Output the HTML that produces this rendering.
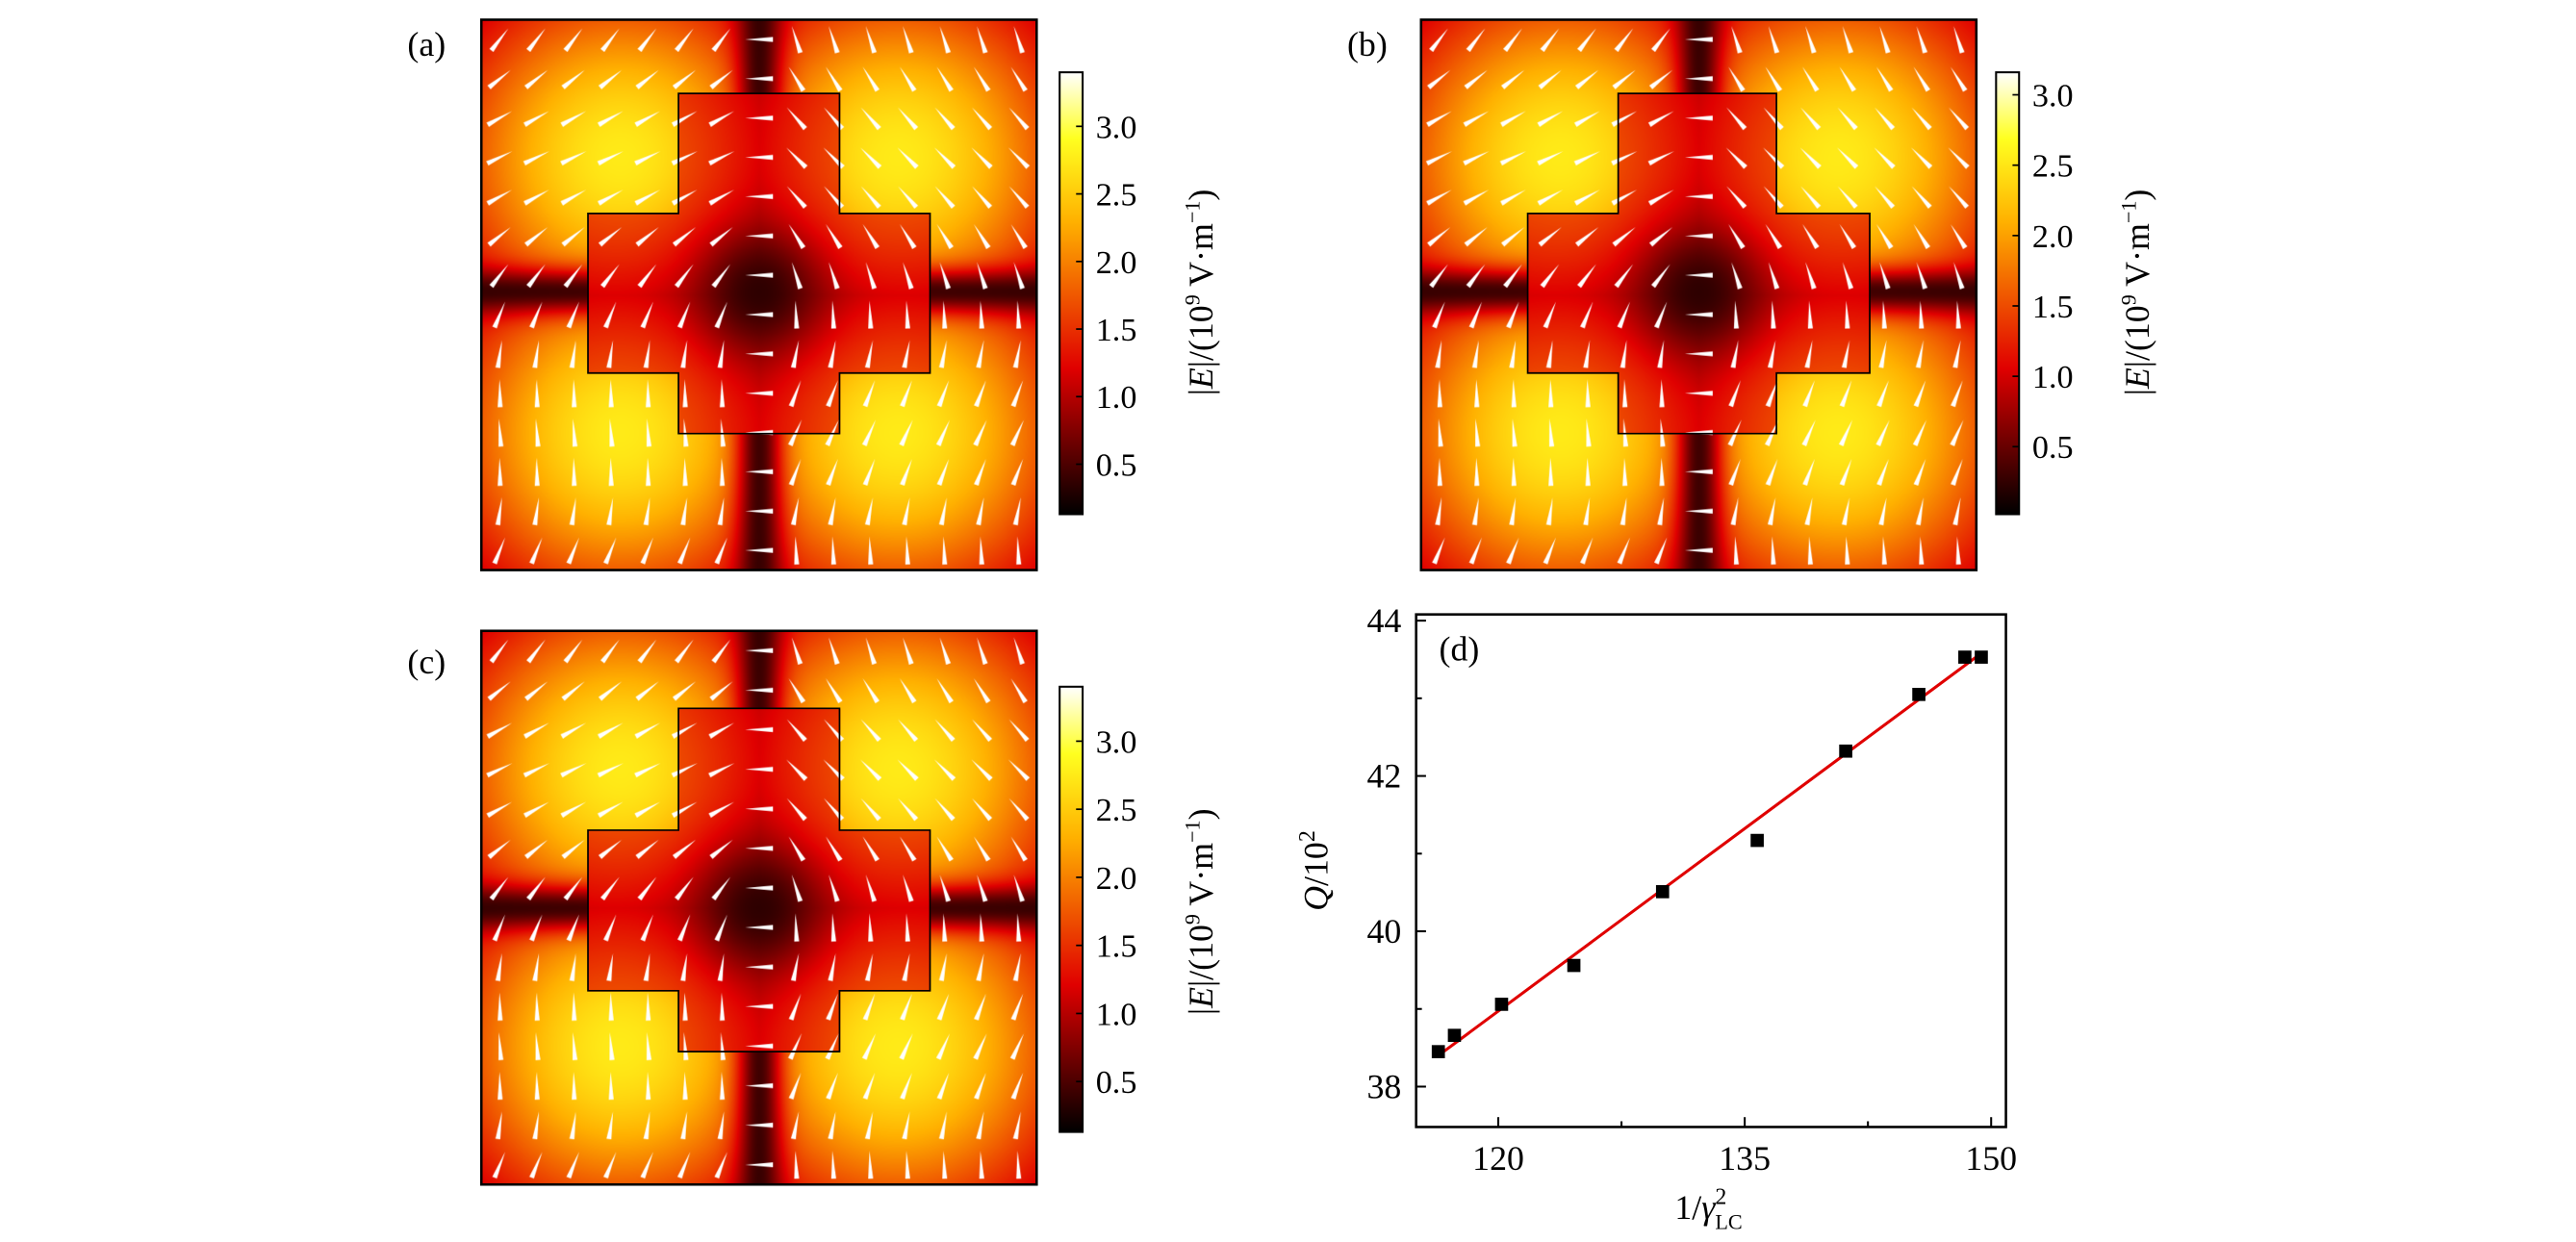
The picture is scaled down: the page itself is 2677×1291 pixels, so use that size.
<!DOCTYPE html>
<html><head><meta charset="utf-8"><style>
html,body{margin:0;padding:0;background:#fff;}
#wrap{position:relative;width:1568px;height:756px;transform:scale(1.70727,1.70767);transform-origin:0 0;}
svg{position:absolute;left:0;top:0;}
canvas{position:absolute;}
text{font-family:"Liberation Serif",serif;fill:#000;}
</style></head><body>
<div id="wrap">
<canvas id="ca" width="676" height="670" style="left:293px;top:12px;width:338px;height:335px"></canvas>
<canvas id="cb" width="676" height="670" style="left:865px;top:12px;width:338px;height:335px"></canvas>
<canvas id="cc" width="676" height="674" style="left:293px;top:384px;width:338px;height:337px"></canvas>
<svg id="svg" width="1568" height="756" viewBox="0 0 1568 756">
<defs><linearGradient id="hot" x1="0" y1="1" x2="0" y2="0">
<stop offset="0" stop-color="#000"/><stop offset="0.33" stop-color="#e00000"/><stop offset="0.66" stop-color="#ffb000"/><stop offset="0.85" stop-color="#ffff20"/><stop offset="1" stop-color="#fff"/></linearGradient></defs>
<text x="248" y="34" font-size="21">(a)</text>
<text x="820" y="34" font-size="21">(b)</text>
<text x="248" y="410" font-size="21">(c)</text>
<g id="frames"></g>
<g id="chart"></g>
</svg>
</div>
<script>
// ---- chart (d) data ----
const xVals=[116.35,117.33,120.2,124.6,130.0,135.76,141.15,145.6,148.4,149.4];
const yVals=[38.45,38.66,39.06,39.56,40.51,41.17,42.32,43.05,43.53,43.53];
const fitX=[116.35,149.4];
const fitY=[38.4,43.58];
const xTicks=[120,135,150];
const yTicks=[38,40,42,44];
const cbTicks=[0.5,1.0,1.5,2.0,2.5,3.0];

const NS="http://www.w3.org/2000/svg";
function mk(tag,attrs,parent){const e=document.createElementNS(NS,tag);for(const k in attrs)e.setAttribute(k,attrs[k]);parent.appendChild(e);return e;}
const ax={l:862,r:1221,t:374,b:686,x0:115.0,x1:150.9,y0:37.48,y1:44.08};
const sx=v=>ax.l+(v-ax.x0)/(ax.x1-ax.x0)*(ax.r-ax.l);
const sy=v=>ax.b-(v-ax.y0)/(ax.y1-ax.y0)*(ax.b-ax.t);
const g=document.getElementById('chart');
let e=mk('rect',{x:ax.l,y:ax.t,width:ax.r-ax.l,height:ax.b-ax.t,fill:'none',stroke:'#000','stroke-width':1.5},g);


xTicks.forEach(t=>{
  let l=mk('line',{x1:sx(t),x2:sx(t),y1:ax.b,y2:ax.b-6,stroke:'#000','stroke-width':1.2},g);
  
  
  let tx=mk('text',{x:sx(t),y:ax.b+26,'font-size':21,'text-anchor':'middle'},g);tx.textContent=t;
  
  
});
[127.5,142.5].forEach(t=>{mk('line',{x1:sx(t),x2:sx(t),y1:ax.b,y2:ax.b-3.5,stroke:'#000','stroke-width':1.2},g);});
yTicks.forEach(t=>{
  let l=mk('line',{x1:ax.l,x2:ax.l+6,y1:sy(t),y2:sy(t),stroke:'#000','stroke-width':1.2},g);
  
  
  let tx=mk('text',{x:ax.l-9,y:sy(t)+7,'font-size':21,'text-anchor':'end'},g);tx.textContent=t;
  
  
});
[39,41,43].forEach(t=>{mk('line',{x1:ax.l,x2:ax.l+3.5,y1:sy(t),y2:sy(t),stroke:'#000','stroke-width':1.2},g);});
e=mk('line',{x1:sx(fitX[0]),y1:sy(fitY[0]),x2:sx(fitX[1]),y2:sy(fitY[1]),stroke:'#e00000','stroke-width':1.8},g);


xVals.forEach((x,i)=>{
  let r=mk('rect',{x:sx(x)-4,y:sy(yVals[i])-4,width:8,height:8,fill:'#000'},g);
  
  
});
e=mk('text',{x:876,y:402,'font-size':21},g);e.textContent='(d)';


e=mk('text',{x:1040,y:742,'font-size':21,'text-anchor':'middle'},g);
e.innerHTML='1/<tspan font-style="italic">γ</tspan><tspan font-size="14" dy="-9">2</tspan><tspan font-size="13" dx="-7" dy="15">LC</tspan>';


e=mk('text',{x:0,y:0,'font-size':21,'text-anchor':'middle',transform:'translate(808,530) rotate(-90)'},g);
e.innerHTML='<tspan font-style="italic">Q</tspan>/10<tspan font-size="14" dy="-8">2</tspan>';



// ---- frames & colorbars ----
const fr=document.getElementById('frames');
const panels=[
 {id:'a',x:293,y:12,w:338,h:335,cb:{x:645,y:44,w:14,h:269,min:0.13,max:3.4},lx:738,ly:178,cross:[0.355,0.645,0.134,0.752,0.192,0.808,0.352,0.642]},
 {id:'b',x:865,y:12,w:338,h:335,cb:{x:1215,y:44,w:14,h:269,min:0.02,max:3.16},lx:1308,ly:178,cross:[0.355,0.64,0.134,0.752,0.192,0.808,0.352,0.642]},
 {id:'c',x:293,y:384,w:338,h:337,cb:{x:645,y:418,w:14,h:271,min:0.13,max:3.4},lx:738,ly:555,cross:[0.355,0.645,0.14,0.76,0.192,0.808,0.36,0.65]}
];
panels.forEach(p=>{
  const c=p.cb;
  let r=mk('rect',{x:c.x,y:c.y,width:c.w,height:c.h,fill:'url(#hot)',stroke:'#000','stroke-width':1.2},fr);
  
  
  cbTicks.forEach(t=>{
    const yy=c.y+c.h-(t-c.min)/(c.max-c.min)*c.h;
    mk('line',{x1:c.x+c.w,x2:c.x+c.w-4,y1:yy,y2:yy,stroke:'#000','stroke-width':1},fr);
    let tx=mk('text',{x:c.x+c.w+8,y:yy+7,'font-size':20},fr);tx.textContent=t.toFixed(1);
    
    
  });
  let lab=mk('text',{x:0,y:0,'font-size':21,'text-anchor':'middle',transform:`translate(${p.lx},${p.ly}) rotate(-90)`},fr);
  lab.innerHTML='|<tspan font-style="italic">E</tspan>|/(10<tspan font-size="13" dy="-8">9</tspan><tspan dy="8"> V·m</tspan><tspan font-size="13" dy="-8">−1</tspan><tspan dy="8">)</tspan>';
  
  
  const [a0,a1,b0,b1,c0,c1,d0,d1]=p.cross;
  const X=u=>p.x+u*p.w, Y=v=>p.y+v*p.h;
  const pts=[[a0,b0],[a1,b0],[a1,d0],[c1,d0],[c1,d1],[a1,d1],[a1,b1],[a0,b1],[a0,d1],[c0,d1],[c0,d0],[a0,d0]].map(q=>X(q[0])+','+Y(q[1])).join(' ');
  let pg=mk('polygon',{points:pts,fill:'none',stroke:'#000','stroke-width':1},fr);
  
  
  let fb=mk('rect',{x:p.x,y:p.y,width:p.w,height:p.h,fill:'none',stroke:'#000','stroke-width':1.5},fr);
  
  
  drawMap(document.getElementById('c'+p.id),p);
});
function hot(t){t=Math.max(0,Math.min(1,t));
  const st=[[0,0,0,0],[0.33,224,0,0],[0.66,255,176,0],[0.85,255,255,32],[1,255,255,255]];
  for(let i=1;i<st.length;i++){if(t<=st[i][0]){const a=st[i-1],b=st[i],f=(t-a[0])/(b[0]-a[0]);return [a[1]+f*(b[1]-a[1]),a[2]+f*(b[2]-a[2]),a[3]+f*(b[3]-a[3])];}}
  return [255,255,255];}
function drawMap(cv,p){
  const ctx=cv.getContext('2d'),W=cv.width,H=cv.height;
  const img=ctx.createImageData(W,H);const [a0,a1,b0,b1,c0,c1,d0,d1]=p.cross;
  const cy=(b0+b1)/2+0.05;
  for(let j=0;j<H;j++)for(let i=0;i<W;i++){
    const u=i/W,v=j/H;
    const gu=0.6+0.4*Math.abs(Math.sin(2*Math.PI*u)), gv=0.6+0.4*Math.abs(Math.sin(2*Math.PI*v));
    let f=gu*gv;
    const inV=(u>a0&&u<a1&&v>b0&&v<b1), inH=(u>c0&&u<c1&&v>d0&&v<d1);
    if(!inV) f*=1-0.92*Math.exp(-Math.pow((u-0.5)/0.04,2));
    if(!inH) f*=1-0.92*Math.exp(-Math.pow((v-cy)/0.04,2));
    if(inV||inH) f*=0.6;
    f*=1-0.95*Math.exp(-(Math.pow(u-0.5,2)+Math.pow(v-cy,2))/0.012);
    const c=hot(0.06+f*0.74);const k=(j*W+i)*4;
    img.data[k]=c[0];img.data[k+1]=c[1];img.data[k+2]=c[2];img.data[k+3]=255;
  }
  ctx.putImageData(img,0,0);
  ctx.fillStyle='#fff';
  const nx=15,ny=14;
  for(let r=0;r<ny;r++)for(let q=0;q<nx;q++){
    const u=(q+0.5)/nx,v=(r+0.5)/ny;
    const cx=u*W,cyy=v*H;
    let ang=(u<0.5? -1.05: -1.75)+0.6*Math.sin(2*Math.PI*v)*(u<0.5?1:-1);
    if(Math.abs(u-0.5)<0.04) ang=Math.PI;
    const L=34,dx=Math.cos(ang),dy=Math.sin(ang);
    ctx.beginPath();
    ctx.moveTo(cx+dx*L/2,cyy+dy*L/2);
    ctx.lineTo(cx-dx*L/2-dy*3,cyy-dy*L/2+dx*3);
    ctx.lineTo(cx-dx*L/2+dy*3,cyy-dy*L/2-dx*3);
    ctx.closePath();ctx.fill();
  }
}
</script>
</body></html>
